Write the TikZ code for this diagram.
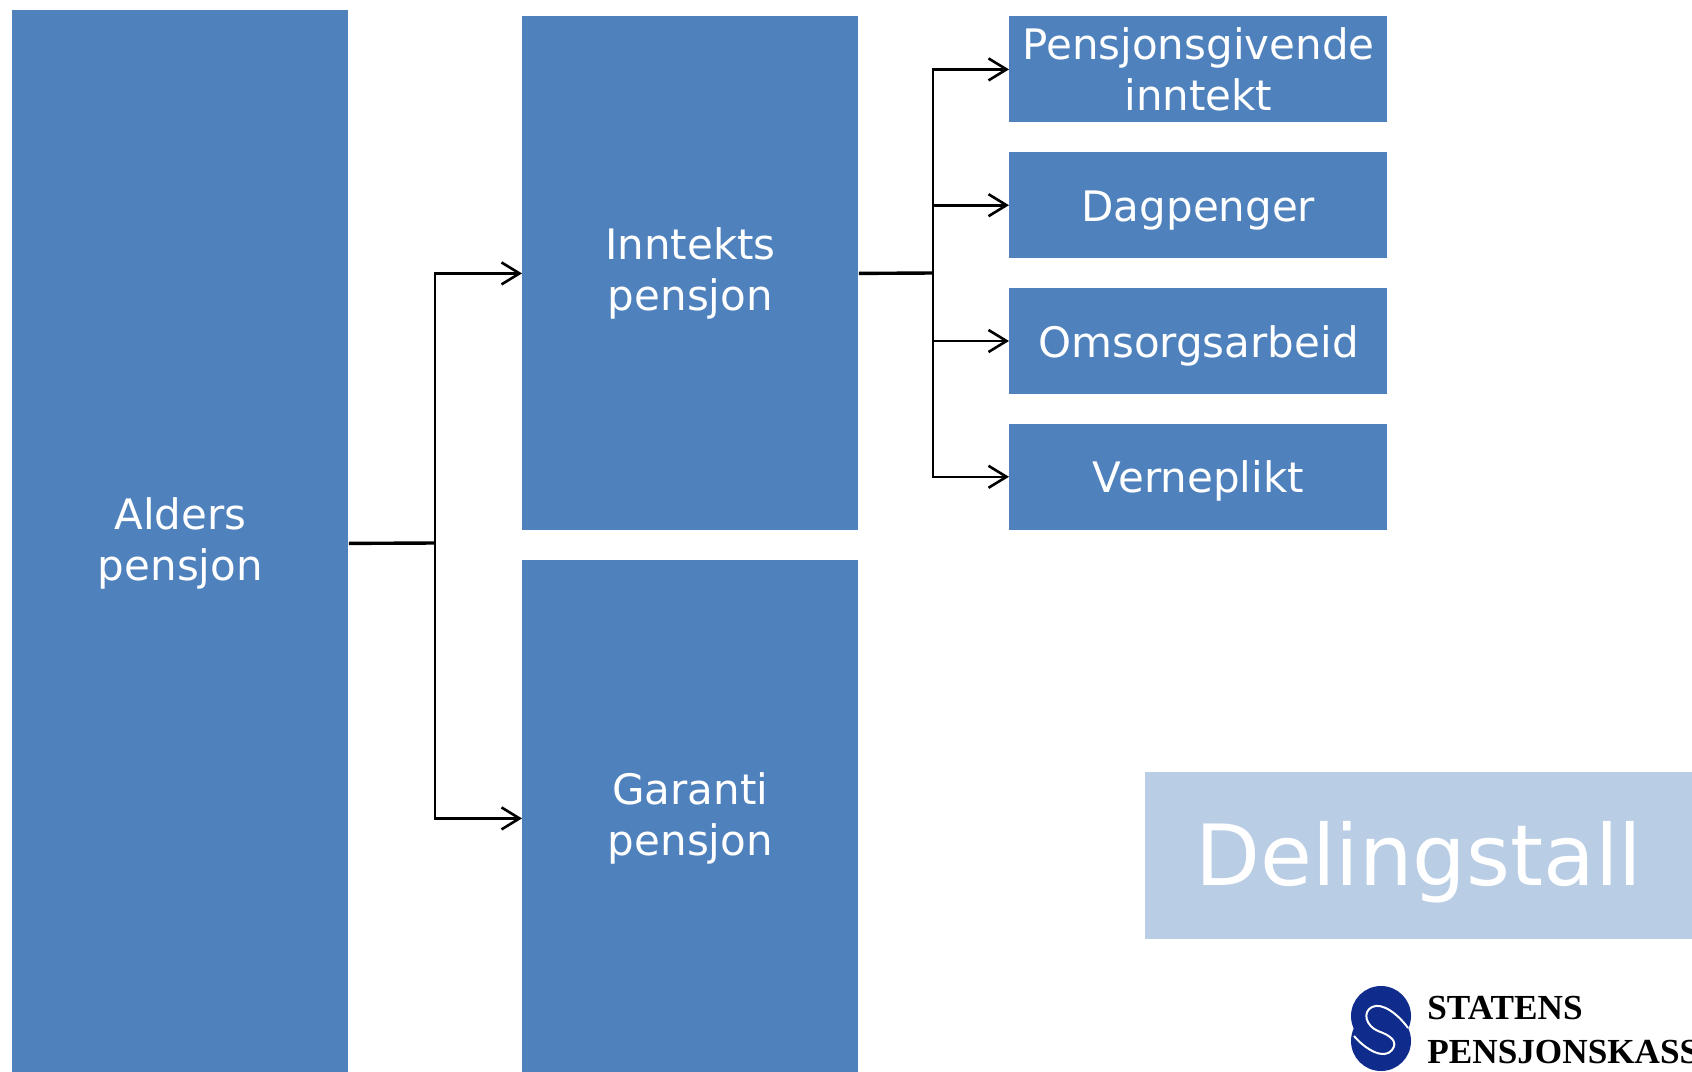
\documentclass[tikz,border=0pt]{standalone}
\usepackage{fontspec}
\setmainfont{DejaVu Sans}
\newfontfamily\logofont{Liberation Serif}
\usetikzlibrary{positioning}
\usetikzlibrary{arrows.meta}
\definecolor{boxblue}{HTML}{4F81BD}
\definecolor{lightblue}{HTML}{B9CDE5}
\definecolor{logoblue}{HTML}{0F2C8C}

\begin{document}
\begin{tikzpicture}[
                          x=0.5pt, y=-0.5pt,
                          >={Straight Barb[length=9pt, width=11pt]},
                          node distance=14.5pt,
                          bigbox/.style={rectangle, fill=boxblue, text=white, inner sep=0pt, align=center, font=\fontsize{21}{25.5}\selectfont, minimum width=168pt, anchor=north west},
                          smallbox/.style={rectangle, fill=boxblue, text=white, inner sep=0pt, align=center, font=\fontsize{21}{25.5}\selectfont, minimum width=189pt, minimum height=53pt},
                          singlebox/.style={smallbox, text height=19pt, text depth=3pt},
                          arrowline/.style={line width=1.3pt},
                          stubline/.style={line width=1.7pt},
                          logotext/.style={anchor=west, inner sep=0pt, font=\logofont\bfseries\fontsize{17.6}{20}\selectfont},
                      ]
                      \useasboundingbox (0,0) rectangle (1692,1071);

                      %Nodes
                      \node[bigbox, minimum height=533pt]   (alders)  at (12,10)    {Alders\\pensjon};
                      \node[bigbox, minimum height=257pt]   (inntekt) at (522,16)   {Inntekts\\pensjon};
                      \node[bigbox, minimum height=258pt]   (garanti) at (522,560)  {Garanti\\pensjon};
                      \node[smallbox, anchor=north west]    (pgi)     at (1009,16)  {Pensjonsgivende\\inntekt};
                      \node[singlebox]                      (dag)     [below=of pgi]  {Dagpenger};
                      \node[singlebox]                      (omsorg)  [below=of dag]  {Omsorgsarbeid};
                      \node[singlebox]                      (verne)   [below=of omsorg] {Verneplikt};

                      \node[rectangle, fill=lightblue, text=white, inner sep=0pt, minimum width=273.5pt, minimum height=83.5pt, text height=33pt, text depth=3pt, font=\fontsize{42.2}{50}\selectfont, anchor=north west] (deling) at (1145,772) {Delingstall};

                      \coordinate (aldersbus) at (435,543);
                      \coordinate (inntektbus) at (933,273);

                      %Lines
                      \draw[stubline] (alders.east) -- (aldersbus);
                      \draw[arrowline, ->] (aldersbus) |- (inntekt.west);
                      \draw[arrowline, ->] (aldersbus) |- (garanti.west);
                      \draw[stubline] (inntekt.east) -- (inntektbus);
                      \draw[arrowline, ->] (inntektbus) |- (pgi.west);
                      \draw[arrowline, ->] (inntektbus) |- (dag.west);
                      \draw[arrowline, ->] (inntektbus) |- (omsorg.west);
                      \draw[arrowline, ->] (inntektbus) |- (verne.west);

                      %Logo
                      \clip (0,0) rectangle (1692,1071);
                      \fill[logoblue] (1381,1016) circle (15pt);
                      \fill[logoblue] (1381,1041) circle (15pt);
                      \draw[white, line width=1pt] (1408,1028) .. controls (1398,1014) and (1382,1002) .. (1372,1007) .. controls (1362,1012) and (1366,1026) .. (1378,1031) .. controls (1392,1036) and (1398,1042) .. (1392,1050) .. controls (1384,1060) and (1366,1050) .. (1354,1036);
                      \node[logotext] (statens) at (1427,1008) {STATENS};
                      \node[logotext] (spk) at (1427,1052) {PENSJONSKASSE};
                  \end{tikzpicture}
\end{document}
